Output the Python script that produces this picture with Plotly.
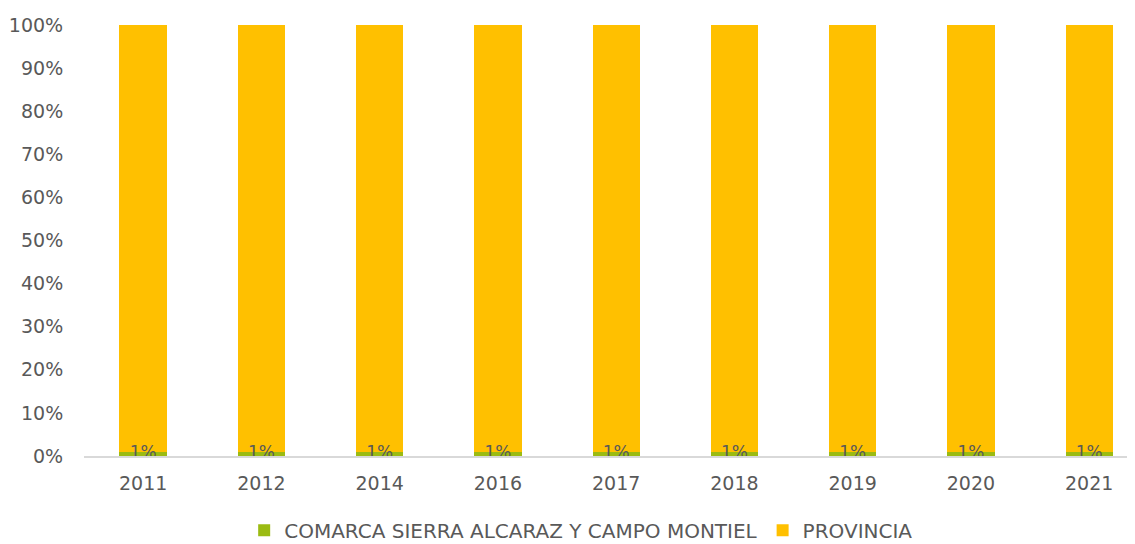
import plotly.graph_objects as go

years = ["2011", "2012", "2014", "2016", "2017", "2018", "2019", "2020", "2021"]
comarca = [1.0, 1.0, 1.0, 1.0, 1.0, 1.0, 1.0, 1.0, 1.0]
provincia = [99.0, 99.0, 99.0, 99.0, 99.0, 99.0, 99.0, 99.0, 99.0]
comarca_labels = ["1%"] * len(years)
yticks = list(range(0, 101, 10))

font_family = "DejaVu Sans"
gray = "#595959"

fig = go.Figure()
fig.add_trace(go.Bar(x=years, y=comarca, name="COMARCA SIERRA ALCARAZ Y CAMPO MONTIEL",
                     marker=dict(color="#9BBB12", line=dict(width=0)), width=0.4))
fig.add_trace(go.Bar(x=years, y=provincia, name="PROVINCIA",
                     marker=dict(color="#FFC000", line=dict(width=0)), width=0.4))
fig.add_trace(go.Scatter(x=years, y=[v / 2 for v in comarca], text=comarca_labels,
                         mode="text", textposition="middle center", cliponaxis=False,
                         textfont=dict(family=font_family, size=17, color=gray),
                         showlegend=False, hoverinfo="skip"))

fig.update_layout(
    barmode="stack",
    width=1135, height=544,
    margin=dict(l=76, r=0, t=17, b=96),
    plot_bgcolor="white", paper_bgcolor="white",
    font=dict(family=font_family, size=19, color=gray),
    legend=dict(orientation="h", xref="container", yref="container",
                x=0.505, xanchor="center", y=0.04, yanchor="middle",
                traceorder="normal",
                font=dict(size=20, color=gray), itemwidth=30),
)
fig.update_xaxes(type="category", range=[-0.5, 8.455], showgrid=False, automargin=False,
                 showline=True, linecolor="#D9D9D9", linewidth=2,
                 ticks="outside", ticklen=9, tickcolor="rgba(0,0,0,0)",
                 tickfont=dict(size=19, color=gray))
fig.update_yaxes(range=[0, 100], tickvals=yticks, ticktext=[f"{v}%" for v in yticks],
                 showgrid=False, zeroline=False, showline=False, automargin=False,
                 ticks="outside", ticklen=16, tickcolor="rgba(0,0,0,0)",
                 tickfont=dict(size=19, color=gray))

fig.write_html("out.html")
